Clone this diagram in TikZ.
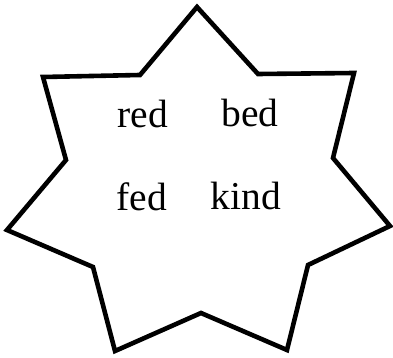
\documentclass[tikz,border=0pt]{standalone}
\usepackage{fontspec}
\setmainfont{Liberation Serif}
\begin{document}
\begin{tikzpicture}[x=1pt,y=-1pt,
  starline/.style={line width=4.6pt,line join=miter,draw=black},
  word/.style={anchor=base,inner sep=0pt,font=\fontsize{39.5}{44}\selectfont}]
\useasboundingbox (0,0) rectangle (393,358);
\draw[starline] (197,7) -- (258,74) -- (354,73) -- (333,158) -- (390,226) -- (308,265)
  -- (287,350) -- (201,313) -- (115,351) -- (93,267) -- (7,230) -- (66,160)
  -- (43,77) -- (140,75) -- cycle;
\node[word] (red) at (143,128) {red};
\node[word] (bed) at (250,127) {bed};
\node[word] (fed) at (142,210) {fed};
\node[word] (kind) at (246,209) {kind};
\end{tikzpicture}
\end{document}
